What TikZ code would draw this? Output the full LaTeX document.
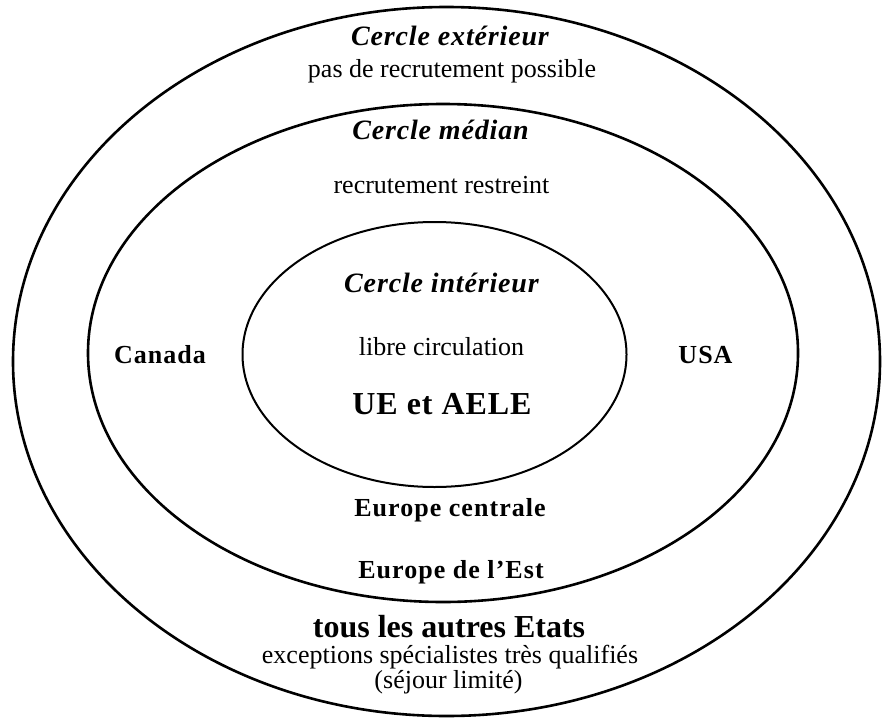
\documentclass[tikz,border=0pt]{standalone}
\usepackage{fontspec}
\setmainfont{Liberation Serif}
\usepackage{tikz}
\newcommand{\RingHeadFont}{\fontsize{14}{17}\selectfont\bfseries\itshape\addfontfeatures{LetterSpace=3}}
\newcommand{\RingTextFont}{\fontsize{13}{15}\selectfont}
\newcommand{\RegionFont}{\fontsize{13}{15}\selectfont\bfseries\addfontfeatures{LetterSpace=4}}
\newcommand{\BigRegionFont}{\fontsize{16}{19}\selectfont\bfseries}

\begin{document}
\begin{tikzpicture}[x=0.5pt,y=-0.5pt]
        \useasboundingbox (0,0) rectangle (882,717);
        % les trois cercles
        \draw[line width=1.3pt] (446.5,361.5) ellipse [x radius=216.75pt,y radius=177.25pt];
        \draw[line width=1.3pt] (443,353) ellipse [x radius=177.5pt,y radius=124.5pt];
        \draw[line width=1pt] (434.5,354.5) ellipse [x radius=96pt,y radius=66.25pt];
        % cercle exterieur
        \node[anchor=base] (exthead) at (450,46) {{\RingHeadFont Cercle extérieur}};
        \node[anchor=base] (exttext) at (452,77) {{\RingTextFont pas de recrutement possible}};
        % cercle median
        \node[anchor=base] (medhead) at (440.5,140) {{\RingHeadFont Cercle médian}};
        \node[anchor=base] (medtext) at (441.5,193) {{\RingTextFont recrutement restreint}};
        \node[anchor=base] (canada) at (160,363) {{\RegionFont Canada}};
        \node[anchor=base] (usa) at (705.5,363) {{\RegionFont USA}};
        \node[anchor=base] (eurcent) at (450,516) {{\RegionFont Europe centrale}};
        \node[anchor=base] (eurest) at (451,578) {{\RegionFont Europe de l’Est}};
        % cercle interieur
        \node[anchor=base] (inthead) at (441.5,292) {{\RingHeadFont Cercle intérieur}};
        \node[anchor=base] (inttext) at (441.5,355) {{\RingTextFont libre circulation}};
        \node[anchor=base] (ueaele) at (442,414) {{\BigRegionFont\addfontfeatures{LetterSpace=3} UE et AELE}};
        % tous les autres
        \node[anchor=base] (autres) at (449,637) {{\BigRegionFont tous les autres Etats}};
        \node[anchor=base] (except) at (450,663) {{\RingTextFont exceptions spécialistes très qualifiés}};
        \node[anchor=base] (sejour) at (448.5,688) {{\RingTextFont (séjour limité)}};
      \end{tikzpicture}
\end{document}
